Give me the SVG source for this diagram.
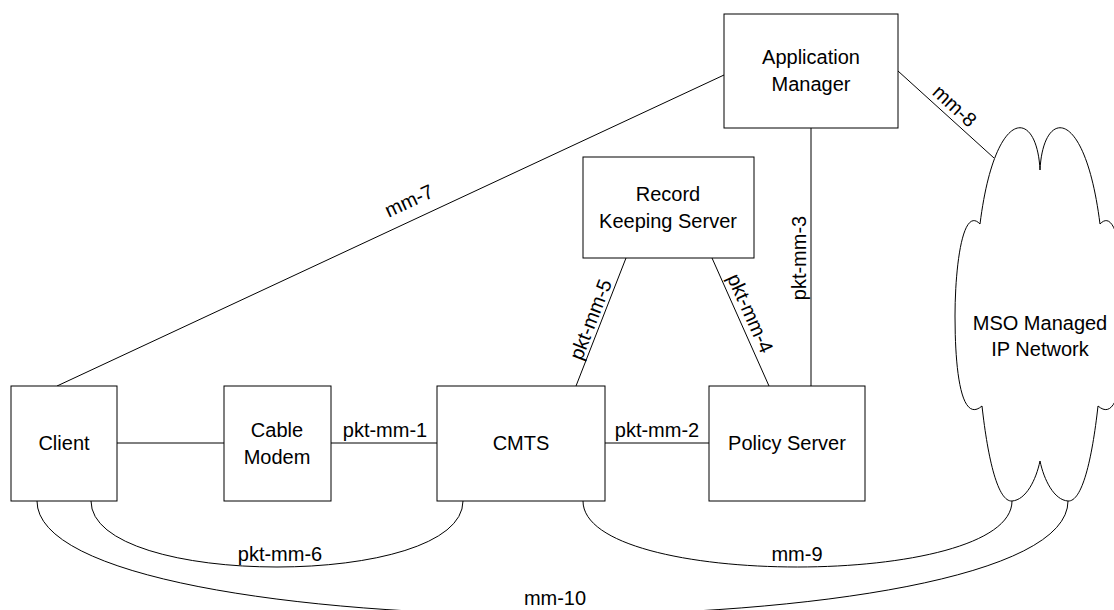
<svg xmlns="http://www.w3.org/2000/svg" width="1114" height="610" viewBox="0 0 1114 610">
<style>
.box{fill:#fff;stroke:#000;stroke-width:1}
.ln{fill:none;stroke:#000;stroke-width:1}
text{font-family:"Liberation Sans",Arial,sans-serif;font-size:20px;fill:#000}
.c{text-anchor:middle}
</style>
<rect width="1114" height="610" fill="#fff"/>
<g id="connectors">
<line class="ln" x1="117" y1="443" x2="224" y2="443"/>
<line class="ln" x1="331" y1="443" x2="437" y2="443"/>
<line class="ln" x1="605" y1="443" x2="709" y2="443"/>
<line class="ln" x1="57" y1="386" x2="724" y2="75"/>
<line class="ln" x1="898" y1="71" x2="994" y2="158"/>
<line class="ln" x1="811" y1="128" x2="811" y2="386"/>
<line class="ln" x1="626" y1="258" x2="576" y2="386"/>
<line class="ln" x1="712" y1="258" x2="769" y2="386"/>
<path class="ln" d="M91,501 C91,589 463,589 463,501"/>
<path class="ln" d="M583,501 C583,589 1012,589 1012,501"/>
<path class="ln" d="M37,501 C37,653 1068,653 1068,501"/>
<text class="c" x="385" y="437">pkt-mm-1</text>
<text class="c" x="657" y="437">pkt-mm-2</text>
<text class="c" x="280" y="561">pkt-mm-6</text>
<text class="c" x="797" y="561">mm-9</text>
<text class="c" x="555" y="605">mm-10</text>
<text class="c" transform="translate(412,207) rotate(-25)">mm-7</text>
<text class="c" transform="translate(950,111) rotate(42.5)">mm-8</text>
<text class="c" transform="translate(806,258) rotate(-90)">pkt-mm-3</text>
<text class="c" transform="translate(597,322) rotate(-68.7)">pkt-mm-5</text>
<text class="c" transform="translate(744,316) rotate(66)">pkt-mm-4</text>
</g>
<g id="app-manager">
<rect class="box" x="724" y="14" width="174" height="114"/>
<text class="c" x="811" y="64">Application</text>
<text class="c" x="811" y="91">Manager</text>
</g>
<g id="record-keeping-server">
<rect class="box" x="583" y="157" width="171" height="101"/>
<text class="c" x="668" y="201">Record</text>
<text class="c" x="668" y="228">Keeping Server</text>
</g>
<g id="client">
<rect class="box" x="11" y="386" width="106" height="115"/>
<text class="c" x="64" y="450">Client</text>
</g>
<g id="cable-modem">
<rect class="box" x="224" y="386" width="107" height="115"/>
<text class="c" x="277" y="437">Cable</text>
<text class="c" x="277" y="464">Modem</text>
</g>
<g id="cmts">
<rect class="box" x="437" y="386" width="168" height="115"/>
<text class="c" x="521" y="450">CMTS</text>
</g>
<g id="policy-server">
<rect class="box" x="709" y="386" width="156" height="115"/>
<text class="c" x="787" y="450">Policy Server</text>
</g>
<g id="mso-network">
<path class="box" d="M1040,170 C1037,108 995,105 980,224 C962,205 955,270 955,316 C955,365 960,425 982,406 C988,460 998,502 1012,501 C1026,500 1036,480 1040,461 C1044,480 1054,500 1068,501 C1082,502 1092,460 1098,406 C1120,425 1125,365 1125,316 C1125,270 1118,205 1100,224 C1085,105 1043,108 1040,170 Z"/>
<text class="c" x="1040" y="330">MSO Managed</text>
<text class="c" x="1040" y="356">IP Network</text>
</g>
</svg>
